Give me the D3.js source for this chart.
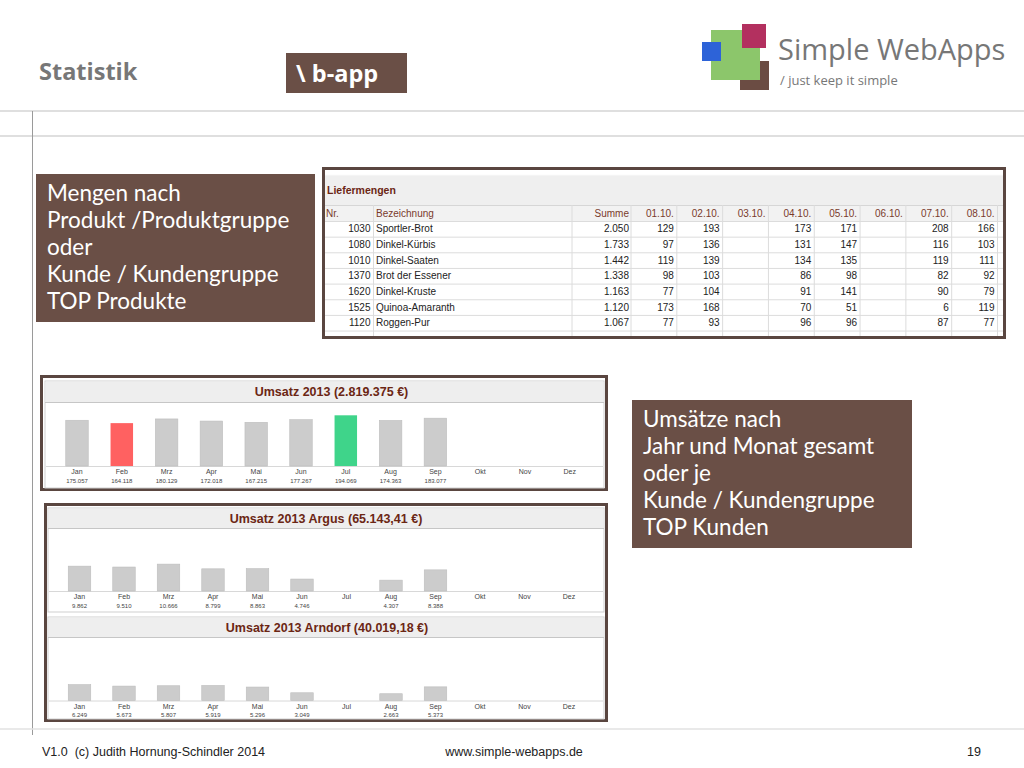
<!DOCTYPE html>
<html><head><meta charset="utf-8">
<script src="https://cdn.jsdelivr.net/npm/d3@7"></script>
<style>body{margin:0;background:#fff}svg{display:block}</style>
</head><body>
<svg id="c" width="1024" height="768"></svg>
<script>
// ---------- data ----------
const months = ["Jan","Feb","Mrz","Apr","Mai","Jun","Jul","Aug","Sep","Okt","Nov","Dez"];
const umsatzGesamt = [175057,164118,180129,172018,167215,177267,194069,174363,183077,0,0,0];
const umsatzArgus  = [9862,9510,10666,8799,8863,4746,0,4307,8388,0,0,0];
const umsatzArndorf= [6249,5673,5807,5919,5296,3049,0,2663,5373,0,0,0];
const chartTitles = ["Umsatz 2013 (2.819.375 €)","Umsatz 2013 Argus (65.143,41 €)","Umsatz 2013 Arndorf (40.019,18 €)"];

const tableTitle = "Liefermengen";
const dates = ["01.10.","02.10.","03.10.","04.10.","05.10.","06.10.","07.10.","08.10."];
const productNr = [1030,1080,1010,1370,1620,1525,1120];
const productName = ["Sportler-Brot","Dinkel-Kürbis","Dinkel-Saaten","Brot der Essener","Dinkel-Kruste","Quinoa-Amaranth","Roggen-Pur"];
const productSum = [2050,1733,1442,1338,1163,1120,1067];
const dailyQty = [
  [129,193,null,173,171,null,208,166],
  [97,136,null,131,147,null,116,103],
  [119,139,null,134,135,null,119,111],
  [98,103,null,86,98,null,82,92],
  [77,104,null,91,141,null,90,79],
  [173,168,null,70,51,null,6,119],
  [77,93,null,96,96,null,87,77]
];
const boxLeftLines = ["Mengen nach","Produkt /Produktgruppe","oder","Kunde / Kundengruppe","TOP Produkte"];
const boxRightLines = ["Umsätze nach","Jahr und Monat gesamt","oder je","Kunde / Kundengruppe","TOP Kunden"];

// ---------- setup ----------
const svg = d3.select("#c");
const de = d3.formatLocale({decimal:",",thousands:".",grouping:[3],currency:["","€"]});
const fmt = de.format(",d");
const BROWN = "#6a4f46", FRAME = "#5a4640", TITLE = "#6b2614";
const SANS = "'Liberation Sans', Arial, sans-serif";
const NARROW = "'Liberation Sans Narrow','Arial Narrow','Liberation Sans',sans-serif";
const OPEN = "'Open Sans', sans-serif";

// header lines
svg.append("line").attr("x1",0).attr("x2",1024).attr("y1",111).attr("y2",111).attr("stroke","#d4d4d4").attr("stroke-width",1.5);
svg.append("line").attr("x1",0).attr("x2",1024).attr("y1",136).attr("y2",136).attr("stroke","#d4d4d4").attr("stroke-width",1.5);
svg.append("line").attr("x1",32.5).attr("x2",32.5).attr("y1",111).attr("y2",735).attr("stroke","#9a9a9a").attr("stroke-width",1);
svg.append("line").attr("x1",0).attr("x2",1024).attr("y1",729).attr("y2",729).attr("stroke","#e2e2e2").attr("stroke-width",1.5);

svg.append("text").attr("x",39).attr("y",80).text("Statistik")
  .attr("font-family",OPEN).attr("font-weight","bold").attr("font-size",23.5).attr("fill","#777");
svg.append("rect").attr("x",286).attr("y",53).attr("width",121).attr("height",40).attr("fill",BROWN);
svg.append("text").attr("x",296).attr("y",82).text("\\ b-app")
  .attr("font-family",OPEN).attr("font-weight","bold").attr("font-size",23.5).attr("fill","#fff");

// logo
svg.append("rect").attr("x",740).attr("y",61).attr("width",29).attr("height",29).attr("fill","#6b4c43");
svg.append("rect").attr("x",711).attr("y",30).attr("width",49).attr("height",50).attr("fill","#8cc66b");
svg.append("rect").attr("x",742).attr("y",24).attr("width",24).attr("height",24).attr("fill","#b3305f");
svg.append("rect").attr("x",702).attr("y",42).attr("width",19).attr("height",19).attr("fill","#2d63d8");
svg.append("text").attr("x",778).attr("y",60).text("Simple WebApps")
  .attr("font-family",OPEN).attr("font-size",29).attr("fill","#777");
svg.append("text").attr("x",780).attr("y",85).text("/ just keep it simple")
  .attr("font-family",OPEN).attr("font-size",13).attr("fill","#777");

// text boxes
function textBox(x,y,w,h,lines){
  svg.append("rect").attr("x",x).attr("y",y).attr("width",w).attr("height",h).attr("fill",BROWN);
  svg.append("g").selectAll("text").data(lines).join("text")
    .attr("x",x+11).attr("y",(d,i)=>y+27+i*27).text(d=>d)
    .attr("font-family","Lato, sans-serif").attr("font-size",22.5).attr("fill","#fff");
}
textBox(36,174,279,148,boxLeftLines);
textBox(632,400,280,148,boxRightLines);

// ---------- table ----------
(function(){
  const tx0=322, tx1=1006, ty0=167, ty1=339;
  const g = svg.append("g");
  const clip = svg.append("clipPath").attr("id","tclip");
  clip.append("rect").attr("x",tx0+2).attr("y",ty0+2).attr("width",tx1-tx0-4).attr("height",ty1-ty0-4);
  const inner = g.append("g").attr("clip-path","url(#tclip)");
  inner.append("rect").attr("x",tx0).attr("y",ty0).attr("width",tx1-tx0).attr("height",ty1-ty0).attr("fill","#fff");
  inner.append("rect").attr("x",tx0+3).attr("y",175).attr("width",tx1-tx0-6).attr("height",30).attr("fill","#efefef");
  inner.append("line").attr("x1",tx0).attr("x2",tx1).attr("y1",175).attr("y2",175).attr("stroke","#fafafa");
  inner.append("text").attr("x",327).attr("y",194).text(tableTitle)
    .attr("font-family",SANS).attr("font-weight","bold").attr("font-size",10.5).attr("fill",TITLE);
  inner.append("rect").attr("x",tx0+3).attr("y",205).attr("width",tx1-tx0-6).attr("height",16).attr("fill","#f2f2f2");
  inner.append("line").attr("x1",tx0).attr("x2",tx1).attr("y1",205.5).attr("y2",205.5).attr("stroke","#d6d6d6");

  const xd = d3.scaleBand().domain(dates).range([631,997.5]);
  const y = d3.scaleBand().domain(d3.range(productNr.length+1)).range([221,221+15.65*(productNr.length+1)]);
  const seps = [373.5,572,...dates.map(d=>xd(d)),997.5];
  inner.selectAll(".rl").data(d3.range(productNr.length+2)).join("line")
    .attr("x1",tx0).attr("x2",tx1).attr("y1",i=>y(0)+i*y.step()+0.5).attr("y2",i=>y(0)+i*y.step()+0.5)
    .attr("stroke","#dcdcdc");
  inner.selectAll(".cl").data(seps).join("line")
    .attr("x1",d=>d).attr("x2",d=>d).attr("y1",205).attr("y2",ty1).attr("stroke","#dcdcdc");
  const hy = 216.5, hc = "#7a3b2c";
  const hf = (sel)=>sel.attr("font-family",NARROW).attr("font-size",10).attr("fill",hc);
  hf(inner.append("text").attr("x",326).attr("y",hy).text("Nr."));
  hf(inner.append("text").attr("x",376).attr("y",hy).text("Bezeichnung"));
  hf(inner.append("text").attr("x",629).attr("y",hy).attr("text-anchor","end").text("Summe"));
  inner.selectAll(".dh").data(dates).join("text").attr("x",d=>xd(d)+xd.bandwidth()-3).attr("y",hy)
    .attr("text-anchor","end").text(d=>d).call(hf);
  const cf = (sel)=>sel.attr("font-family",NARROW).attr("font-size",10).attr("fill","#222");
  productNr.forEach((nr,i)=>{
    const yy = y(i)+y.bandwidth()/2+3.5;
    cf(inner.append("text").attr("x",370.5).attr("y",yy).attr("text-anchor","end").text(nr));
    cf(inner.append("text").attr("x",376).attr("y",yy).text(productName[i]));
    cf(inner.append("text").attr("x",629).attr("y",yy).attr("text-anchor","end").text(fmt(productSum[i])));
    dailyQty[i].forEach((v,j)=>{
      if(v==null) return;
      cf(inner.append("text").attr("x",xd(dates[j])+xd.bandwidth()-3).attr("y",yy).attr("text-anchor","end").text(v));
    });
  });
  g.append("rect").attr("x",tx0+1.5).attr("y",ty0+1.5).attr("width",tx1-tx0-3).attr("height",ty1-ty0-3)
    .attr("fill","none").attr("stroke",FRAME).attr("stroke-width",3);
})();

// ---------- bar charts ----------
function barChart(o){
  const g = svg.append("g");
  g.append("rect").attr("x",o.wx0).attr("y",o.wy0).attr("width",o.wx1-o.wx0).attr("height",o.wy1-o.wy0)
    .attr("fill","#fff").attr("stroke","#cfcfcf");
  g.append("rect").attr("x",o.wx0+0.5).attr("y",o.wy0+0.5).attr("width",o.wx1-o.wx0-1).attr("height",o.tb-o.wy0)
    .attr("fill","#eeeeee");
  g.append("line").attr("x1",o.wx0).attr("x2",o.wx1).attr("y1",o.tb+0.5).attr("y2",o.tb+0.5).attr("stroke","#c6c6c6");
  g.append("text").attr("x",(o.wx0+o.wx1)/2+o.tdx).attr("y",(o.wy0+o.tb)/2+4.5).attr("text-anchor","middle")
    .text(o.title).attr("font-family",SANS).attr("font-weight","bold").attr("font-size",12.5).attr("fill",TITLE);
  const x = d3.scalePoint().domain(months).range(o.xr).padding(0.5);
  const y = d3.scaleLinear().domain([0,o.max]).range([o.base,o.tb]);
  g.append("line").attr("x1",o.wx0+1).attr("x2",o.wx1-1).attr("y1",o.base+0.5).attr("y2",o.base+0.5).attr("stroke","#d8d8d8");
  const bw = 22.5;
  const vals = o.values;
  const mx = d3.max(vals), mn = d3.min(vals.filter(v=>v>0));
  g.selectAll(".b").data(vals).join("rect")
    .attr("x",(d,i)=>x(months[i])-bw/2).attr("width",bw)
    .attr("y",d=>y(d)).attr("height",d=>o.base-y(d))
    .attr("fill",d=> o.highlight && d===mx ? "#3fd48a" : o.highlight && d===mn ? "#ff6161" : "#cccccc")
    .attr("stroke",d=> o.highlight && (d===mx||d===mn) ? "none" : "#bdbdbd").attr("stroke-width",0.6);
  g.selectAll(".m").data(months).join("text").attr("x",d=>x(d)).attr("y",o.base+8)
    .attr("text-anchor","middle").text(d=>d).attr("font-family",SANS).attr("font-size",7).attr("fill","#444");
  g.selectAll(".v").data(vals).join("text").attr("x",(d,i)=>x(months[i])).attr("y",o.base+16.5)
    .attr("text-anchor","middle").text(d=>d>0?fmt(d):"").attr("font-family",SANS).attr("font-size",6).attr("fill","#444");
}
svg.append("rect").attr("x",41.5).attr("y",376.5).attr("width",565).attr("height",113)
  .attr("fill","#fff").attr("stroke",FRAME).attr("stroke-width",3);
barChart({wx0:45,wx1:604,wy0:381,wy1:488,tb:402,base:466,max:245000,xr:[54.6,592.2],
  title:chartTitles[0],values:umsatzGesamt,highlight:true,tdx:7});
svg.append("rect").attr("x",45.5).attr("y",504.5).attr("width",561).attr("height",216)
  .attr("fill","#fff").attr("stroke",FRAME).attr("stroke-width",3);
barChart({wx0:48,wx1:604,wy0:508,wy1:612,tb:528,base:591,max:25000,xr:[57.25,591.25],
  title:chartTitles[1],values:umsatzArgus,highlight:false,tdx:0});
barChart({wx0:48,wx1:604,wy0:617,wy1:719,tb:637,base:700.5,max:25000,xr:[57.25,591.25],
  title:chartTitles[2],values:umsatzArndorf,highlight:false,tdx:1});

// footer
const ff = (sel)=>sel.attr("font-family",NARROW).attr("font-size",12.5).attr("fill","#222");
ff(svg.append("text").attr("x",42).attr("y",756).text("V1.0  (c) Judith Hornung-Schindler 2014")).style("white-space","pre");
ff(svg.append("text").attr("x",514).attr("y",756).attr("text-anchor","middle").text("www.simple-webapps.de"));
ff(svg.append("text").attr("x",981).attr("y",756).attr("text-anchor","end").text("19"));
</script>
</body></html>
